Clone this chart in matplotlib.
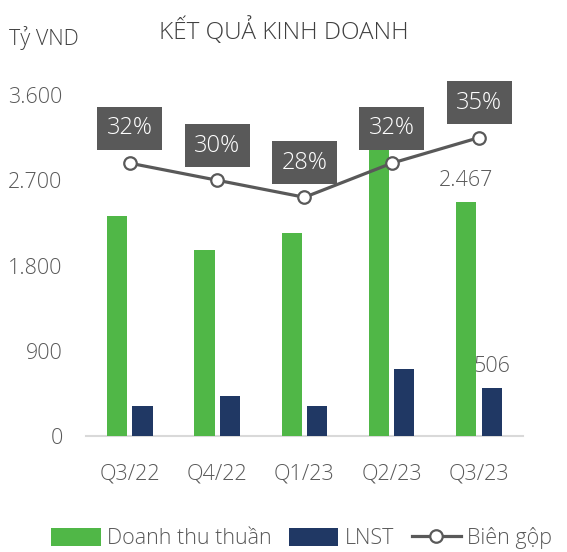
import matplotlib.pyplot as plt
import numpy as np

plt.rcParams['font.family'] = ['Open Sans', 'DejaVu Sans']
plt.rcParams['font.weight'] = 'light'

quarters = ["Q3/22", "Q4/22", "Q1/23", "Q2/23", "Q3/23"]
revenue = [2320, 1960, 2140, 3060, 2467]
lnst = [316, 421, 316, 705, 506]
margin = [32, 30, 28, 32, 35]
yticks = [0, 900, 1800, 2700, 3600]
ytick_labels = ["0", "900", "1.800", "2.700", "3.600"]

green = "#50b747"
navy = "#203864"
grey = "#595959"

fig = plt.figure(figsize=(5.67, 5.52), dpi=100)
ax = fig.add_axes([0.152, 0.21, 0.77, 0.618])
x = np.arange(len(quarters))
w = 0.23

ax.bar(x - 0.145, revenue, w, color=green, zorder=3, label="Doanh thu thuần")
ax.bar(x + 0.145, lnst, w, color=navy, zorder=3, label="LNST")

# data labels for the last quarter only
ax.text(x[-1] - 0.145, revenue[-1] + 120, "2.467", ha="center", va="bottom",
        fontsize=15.5, color=grey, zorder=2)
ax.text(x[-1] + 0.145, lnst[-1] + 120, "506", ha="center", va="bottom",
        fontsize=15.5, color=grey, zorder=2)

ax.set_ylim(0, 3600)
ax.set_xlim(-0.5, 4.5)
ax.set_yticks(yticks)
ax.set_yticklabels(ytick_labels)
ax.set_xticks(x)
ax.set_xticklabels(quarters)
ax.tick_params(axis="y", length=0, labelsize=15.5, labelcolor=grey, pad=17)
ax.tick_params(axis="x", length=0, labelsize=15.5, labelcolor=grey, pad=20)
for s in ["top", "right", "left"]:
    ax.spines[s].set_visible(False)
ax.spines["bottom"].set_color("#d9d9d9")
ax.spines["bottom"].set_linewidth(1.5)

ax2 = ax.twinx()
ax2.set_ylim(0, 40)
ax2.axis("off")
ax2.plot(x, margin, color=grey, lw=2.3, marker="o", ms=9,
         mfc="white", mec=grey, mew=1.6, zorder=4, label="Biên gộp")
for xi, m in zip(x, margin):
    ax2.annotate(f"{m}%", (xi, m), xytext=(0, 25), textcoords="offset points",
                 ha="center", va="center", fontsize=17, color="white",
                 bbox=dict(boxstyle="square,pad=0.4", fc=grey, ec="none"),
                 zorder=5)

fig.text(0.5, 0.944, "KẾT QUẢ KINH DOANH", ha="center", va="center",
         fontsize=17.5, color="#404040")
fig.text(0.016, 0.932, "Tỷ VND", ha="left", va="center", fontsize=15.5,
         color="#404040")

h1, l1 = ax.get_legend_handles_labels()
h2, l2 = ax2.get_legend_handles_labels()
fig.legend(h1 + h2, l1 + l2, loc="center left",
           bbox_to_anchor=(0.075, 1 - 538 / 552), ncol=3, frameon=False,
           fontsize=15.5, labelcolor=grey, handlelength=2.3, handleheight=0.9,
           columnspacing=0.8, handletextpad=0.3, borderaxespad=0)

fig.savefig("out.png", dpi=100)
